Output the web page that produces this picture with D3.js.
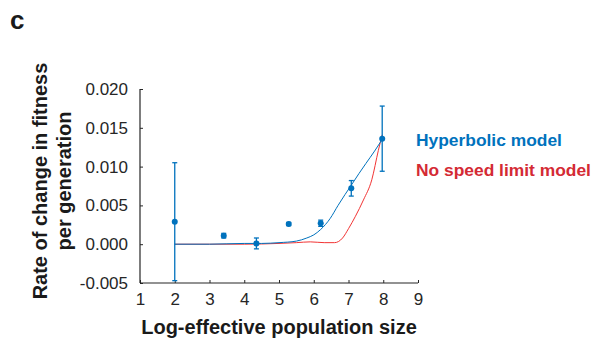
<!DOCTYPE html>
<html>
<head>
<meta charset="utf-8">
<script src="https://cdn.jsdelivr.net/npm/d3@7"></script>
<style>
  body { margin: 0; background: #fff; }
  text { font-family: Arial, "Liberation Sans", sans-serif; }
</style>
</head>
<body>
<div id="chart"></div>
<script>
// observed points with error bars
var ptX = [2, 3.41, 4.35, 5.28, 6.2, 7.08, 7.97];
var ptY = [0.0029, 0.0011, 0.0001, 0.0026, 0.0027, 0.0072, 0.0136];
var ptLo = [-0.0047, 0.0008, -0.0006, 0.0024, 0.0023, 0.0062, 0.0094];
var ptHi = [0.0105, 0.0014, 0.0008, 0.0028, 0.0031, 0.0082, 0.0178];

// hyperbolic model curve
var hypX = [2, 3, 4, 4.5, 5, 5.5, 5.8, 6.0, 6.2, 6.47, 6.7, 6.9, 7.08, 7.3, 7.5, 7.75, 7.97];
var hypY = [0, 0, 0.0001, 0.0001, 0.0002, 0.0004, 0.0008, 0.0012, 0.0019, 0.0033, 0.0050, 0.0064, 0.0076, 0.0091, 0.0104, 0.0120, 0.0135];

// no speed limit model curve
var nslX = [2, 3, 4, 5, 5.5, 5.9, 6.3, 6.6, 6.83, 7.0, 7.2, 7.43, 7.67, 7.86, 7.97];
var nslY = [0, 0, 0, 0.0001, 0.0002, 0.0003, 0.0002, 0.0002, 0.0008, 0.0020, 0.0036, 0.0057, 0.0083, 0.0121, 0.0141];

var xTicks = [1, 2, 3, 4, 5, 6, 7, 8, 9];
var yTicks = [-0.005, 0, 0.005, 0.010, 0.015, 0.020];
var legendLabels = ["Hyperbolic model", "No speed limit model"];

var blue = "#0072bd", redLine = "#f23434", redText = "#d42a34", axisCol = "#262626";
var fontFam = "Arial, 'Liberation Sans', sans-serif";

var svg = d3.select("#chart").append("svg")
  .attr("width", 593).attr("height", 339);

// plot area
var margin = {left: 140, top: 89, right: 175, bottom: 56};
var width = 593 - margin.left - margin.right;   // 278
var height = 339 - margin.top - margin.bottom;  // 194

var g = svg.append("g").attr("transform", `translate(${margin.left},${margin.top})`);

var x = d3.scaleLinear().domain([1, 9]).range([0, width]);
var y = d3.scaleLinear().domain([-0.005, 0.020]).range([height, 0]);

// axes, ticks pointing inward like matlab
var fmtY = d => d3.format(".3f")(d).replace("\u2212", "-");
var xAxis = d3.axisBottom(x).tickValues(xTicks).tickSize(-3).tickPadding(7).tickFormat(d3.format("d"));
var yAxis = d3.axisLeft(y).tickValues(yTicks).tickSize(-3).tickPadding(12).tickFormat(fmtY);

var gx = g.append("g").attr("transform", `translate(0,${height})`).call(xAxis);
var gy = g.append("g").call(yAxis);
[gx, gy].forEach(function(a) {
  a.attr("font-size", 17).attr("font-family", fontFam);
  a.select(".domain").attr("stroke", axisCol).attr("stroke-width", 1.2);
  a.selectAll(".tick line").attr("stroke", axisCol);
  a.selectAll(".tick text").attr("fill", axisCol);
});
gy.selectAll(".tick text").attr("x", -12);
gx.selectAll(".tick text").attr("y", 10).attr("dy", "0.71em");
gy.select(".domain").attr("d", `M0,${height}V0`);
gx.select(".domain").attr("d", `M0,0H${width}`);

// model curves
var line = d3.line().x(d => x(d[0])).y(d => y(d[1])).curve(d3.curveMonotoneX);

g.append("path")
  .datum(d3.zip(nslX, nslY))
  .attr("d", line).attr("fill", "none")
  .attr("stroke", redLine).attr("stroke-width", 1);

g.append("path")
  .datum(d3.zip(hypX, hypY))
  .attr("d", line).attr("fill", "none")
  .attr("stroke", blue).attr("stroke-width", 1);

// error bars
var pts = ptX.map((v, i) => ({x: v, y: ptY[i], lo: ptLo[i], hi: ptHi[i]}));
var eb = g.selectAll(".eb").data(pts).enter().append("g").attr("class", "eb");
eb.append("line")
  .attr("x1", d => x(d.x)).attr("x2", d => x(d.x))
  .attr("y1", d => y(d.lo)).attr("y2", d => y(d.hi))
  .attr("stroke", blue).attr("stroke-width", 1.3);
eb.append("line")
  .attr("x1", d => x(d.x) - 2.5).attr("x2", d => x(d.x) + 2.5)
  .attr("y1", d => y(d.lo)).attr("y2", d => y(d.lo))
  .attr("stroke", blue).attr("stroke-width", 1.3);
eb.append("line")
  .attr("x1", d => x(d.x) - 2.5).attr("x2", d => x(d.x) + 2.5)
  .attr("y1", d => y(d.hi)).attr("y2", d => y(d.hi))
  .attr("stroke", blue).attr("stroke-width", 1.3);
eb.append("circle")
  .attr("cx", d => x(d.x)).attr("cy", d => y(d.y))
  .attr("r", 3).attr("fill", blue);

// legend
svg.selectAll(".leg").data(legendLabels).enter().append("text")
  .attr("x", 416).attr("y", (d, i) => 146 + i * 30)
  .attr("font-size", 17.4).attr("font-weight", "bold")
  .attr("fill", (d, i) => i === 0 ? blue : redText)
  .text(d => d);

// axis titles
svg.append("text")
  .attr("x", 279).attr("y", 334)
  .attr("text-anchor", "middle").attr("font-size", 20).attr("font-weight", "bold")
  .attr("fill", "#1a1a1a")
  .text("Log-effective population size");

var yl = svg.append("text")
  .attr("transform", "translate(0,181) rotate(-90)")
  .attr("text-anchor", "middle").attr("font-size", 20).attr("font-weight", "bold")
  .attr("fill", "#1a1a1a");
yl.append("tspan").attr("x", 0).attr("y", 47).text("Rate of change in fitness");
yl.append("tspan").attr("x", 0).attr("y", 71).text("per generation");

// panel letter
svg.append("text")
  .attr("x", 10).attr("y", 29)
  .attr("font-size", 26).attr("font-weight", "bold").attr("fill", "#1a1a1a")
  .text("c");
</script>
</body>
</html>
